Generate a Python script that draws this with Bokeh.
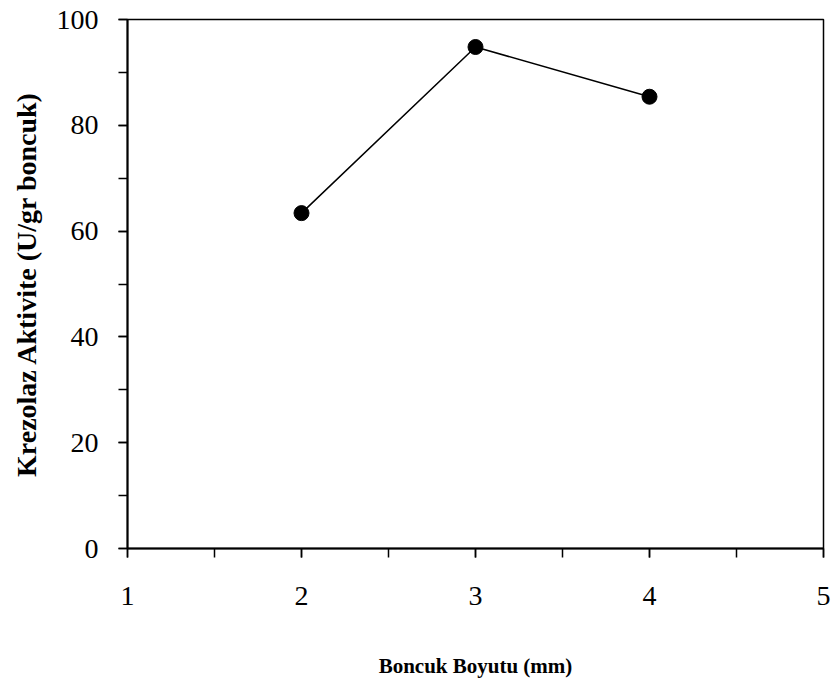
from bokeh.plotting import figure
from bokeh.models import Range1d, SingleIntervalTicker
from bokeh.embed import file_html
from bokeh.resources import INLINE

bead_size_mm = [2, 3, 4]
activity = [63.4, 94.8, 85.4]
x_label = "Boncuk Boyutu (mm)"
y_label = "Krezolaz Aktivite (U/gr boncuk)"

p = figure(width=836, height=687, output_backend="svg", toolbar_location=None,
           x_range=Range1d(1, 5), y_range=Range1d(0, 100),
           min_border_left=127, min_border_right=13, min_border_top=19, min_border_bottom=139)

p.line(bead_size_mm, activity, line_color="black", line_width=1.5)
p.scatter(bead_size_mm, activity, size=15, fill_color="black", line_color="black")

p.xgrid.visible = False
p.ygrid.visible = False
p.outline_line_color = "black"
p.outline_line_width = 1.5
p.background_fill_color = "white"
p.border_fill_color = "white"

p.xaxis.ticker = SingleIntervalTicker(interval=1, num_minor_ticks=2)
p.yaxis.ticker = SingleIntervalTicker(interval=20, num_minor_ticks=2)

for ax in (p.xaxis[0], p.yaxis[0]):
    ax.axis_line_width = 2
    ax.axis_line_color = "black"
    ax.major_tick_in = 0
    ax.major_tick_out = 9
    ax.minor_tick_in = 0
    ax.minor_tick_out = 9
    ax.major_tick_line_width = 1.5
    ax.minor_tick_line_width = 1.5
    ax.major_tick_line_color = "black"
    ax.minor_tick_line_color = "black"
    ax.major_label_text_font = "Liberation Serif"
    ax.major_label_text_font_size = "28px"
    ax.major_label_text_color = "black"
    ax.axis_label_text_font = "Liberation Serif"
    ax.axis_label_text_font_style = "bold"
    ax.axis_label_text_color = "black"

p.xaxis.axis_label = x_label
p.yaxis.axis_label = y_label
p.xaxis.axis_label_text_font_size = "21px"
p.yaxis.axis_label_text_font_size = "28px"
p.xaxis.major_label_standoff = 29
p.yaxis.major_label_standoff = 20
p.xaxis.axis_label_standoff = 46
p.yaxis.axis_label_standoff = 12

open("out.html", "w").write(file_html(p, INLINE))
